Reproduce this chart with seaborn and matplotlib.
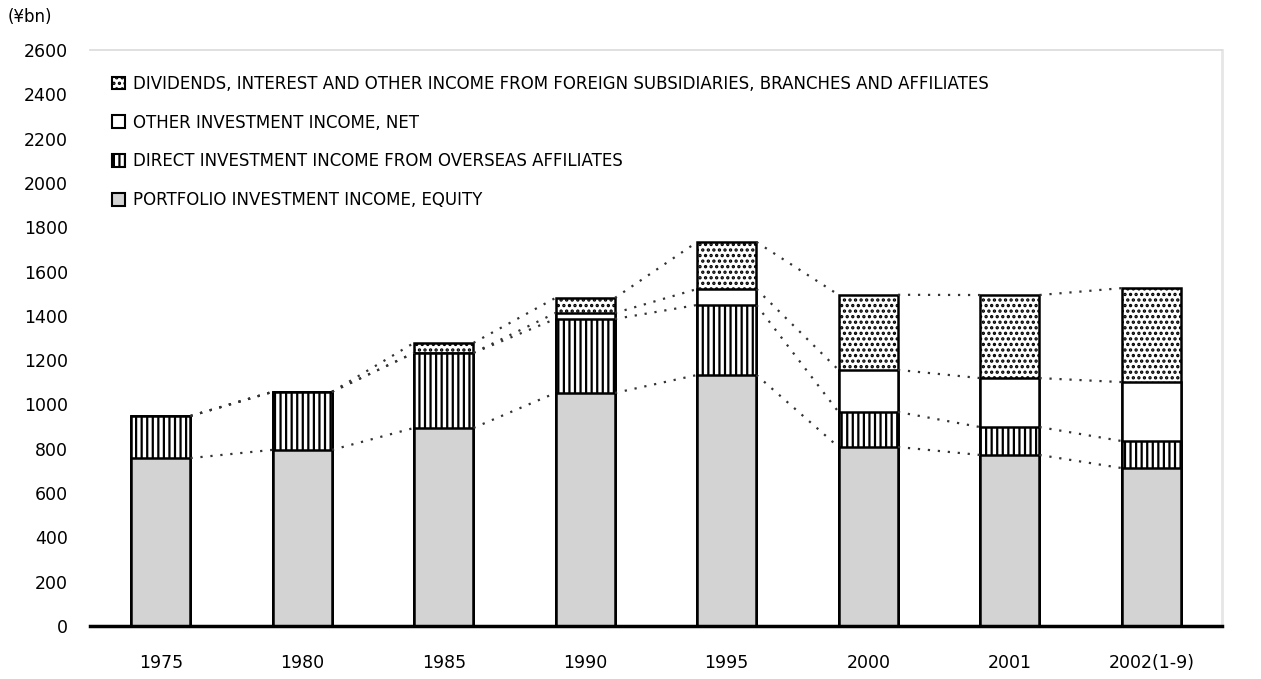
import numpy as np
import pandas as pd
import matplotlib
matplotlib.use("Agg")
import matplotlib.pyplot as plt
import seaborn as sns
from matplotlib.patches import Patch

# ---- data ----
years = ["1975", "1980", "1985", "1990", "1995", "2000", "2001", "2002(1-9)"]
portfolio = [758, 795, 894, 1052, 1133, 808, 772, 713]     # light gray, bottom
direct = [190, 262, 339, 334, 316, 158, 126, 122]          # vertical stripes
other = [0, 0, 0, 27, 72, 190, 221, 266]                   # white
dividends = [0, 0, 45, 68, 212, 339, 375, 424]             # dotted, top

series_names = [
    "PORTFOLIO INVESTMENT INCOME, EQUITY",
    "DIRECT INVESTMENT INCOME FROM OVERSEAS AFFILIATES",
    "OTHER INVESTMENT INCOME, NET",
    "DIVIDENDS, INTEREST AND OTHER INCOME FROM FOREIGN SUBSIDIARIES, BRANCHES AND AFFILIATES",
]
y_ticks = list(range(0, 2601, 200))
unit_label = "(¥bn)"

# ---- style ----
sns.set_theme(style="white")
plt.rcParams["font.family"] = ["DejaVu Sans"]
plt.rcParams["hatch.linewidth"] = 1.6

fig = plt.figure(figsize=(12.61, 6.79), dpi=100)
ax = fig.add_axes([90 / 1261, 53 / 679, (1222 - 90) / 1261, (626 - 50) / 679])

layers = [portfolio, direct, other, dividends]
fills = ["#d3d3d3", "white", "white", "white"]
hatches = ["", "|||", "", "..."]
cum = np.cumsum(np.array(layers, dtype=float), axis=0)

df = pd.DataFrame({"year": years})
bw = 0.42
# draw cumulative layers from the top down so each lower layer covers the upper one
for k in range(len(layers) - 1, -1, -1):
    df["v"] = cum[k]
    sns.barplot(data=df, x="year", y="v", ax=ax, color=fills[k], width=bw,
                saturation=1, hatch=hatches[k], edgecolor="black",
                linewidth=1.8, errorbar=None)

# series (connector) lines between adjacent bars
xs = np.arange(len(years))
for k in range(len(layers)):
    for i in range(len(years) - 1):
        ax.plot([xs[i] + bw / 2, xs[i + 1] - bw / 2], [cum[k][i], cum[k][i + 1]],
                color="#333333", lw=1.6, linestyle=(0, (1, 3.5)), zorder=1)

ax.set_xlim(-0.5, len(years) - 0.5)
ax.set_ylim(0, 2600)
ax.set_yticks(y_ticks)
ax.set_yticklabels([str(t) for t in y_ticks])
ax.set_xlabel("")
ax.set_ylabel("")
ax.tick_params(axis="y", length=0, pad=16, labelsize=12.5, colors="black")
ax.tick_params(axis="x", length=0, pad=20, labelsize=12.5, colors="black")

ax.spines["left"].set_visible(False)
ax.spines["bottom"].set_color("black")
ax.spines["bottom"].set_linewidth(2.5)
ax.spines["top"].set_color("#dcdcdc")
ax.spines["right"].set_color("#e6e6e6")
ax.spines["right"].set_linewidth(2)

fig.text(0.006, 0.975, unit_label, fontsize=12, ha="left", va="center", color="black")

handles = [
    Patch(facecolor=fills[k], edgecolor="black", hatch=hatches[k], linewidth=1.5,
          label=series_names[k])
    for k in range(len(layers) - 1, -1, -1)
]
leg = ax.legend(handles=handles, loc="upper left", bbox_to_anchor=(105 / 1261, 1 - 68 / 679),
                bbox_transform=fig.transFigure, frameon=False, fontsize=12,
                handlelength=0.8, handleheight=0.8, handletextpad=0.5,
                labelspacing=1.25, borderaxespad=0)
for t in leg.get_texts():
    t.set_color("black")

fig.savefig("out.png", dpi=100)
